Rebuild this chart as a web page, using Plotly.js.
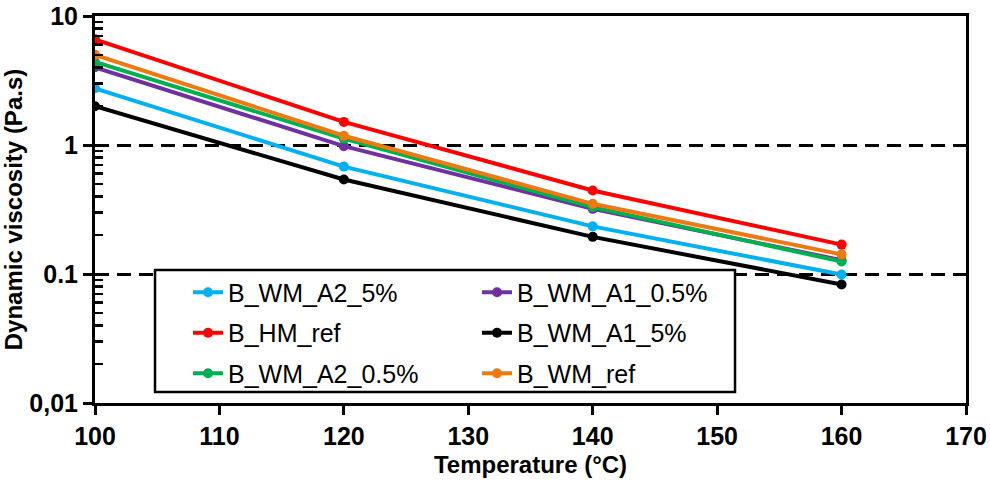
<!DOCTYPE html>
<html>
<head>
<meta charset="utf-8">
<script src="https://cdn.plot.ly/plotly-3.0.1.min.js"></script>
<style>html,body{margin:0;padding:0;background:#fff;}#chart{width:990px;height:483px;}</style>
</head>
<body>
<div id="chart"></div>
<script>
const temperatures = [100, 120, 140, 160];
const seriesNames = ['B_WM_A2_5%', 'B_WM_A1_0.5%', 'B_HM_ref', 'B_WM_A1_5%', 'B_WM_A2_0.5%', 'B_WM_ref'];
const B_WM_A2_5 = [2.75, 0.68, 0.234, 0.099];
const B_WM_A1_05 = [4.0, 0.98, 0.32, 0.128];
const B_HM_ref = [6.6, 1.51, 0.444, 0.169];
const B_WM_A1_5 = [2.0, 0.54, 0.194, 0.083];
const B_WM_A2_05 = [4.4, 1.12, 0.33, 0.125];
const B_WM_ref = [5.0, 1.18, 0.35, 0.142];
const seriesColors = ['#00B0F0', '#7030A0', '#FF0000', '#000000', '#00B050', '#EC7A12'];
const yTickVals = [0.01, 0.1, 1, 10];
const yTickText = ['0,01', '0.1', '1', '10'];
const xTickVals = [100, 110, 120, 130, 140, 150, 160, 170];

const allValues = [B_WM_A2_5, B_WM_A1_05, B_HM_ref, B_WM_A1_5, B_WM_A2_05, B_WM_ref];
const legendOf = ['legend', 'legend2', 'legend', 'legend2', 'legend', 'legend2'];
const drawOrder = [0, 3, 1, 4, 5, 2];
const traces = drawOrder.map(i => ({
  x: temperatures, y: allValues[i], name: seriesNames[i], type: 'scatter', mode: 'lines+markers',
  line: {color: seriesColors[i], width: 4}, marker: {color: seriesColors[i], size: 10},
  legend: legendOf[i], legendgroup: 'g' + i, legendrank: i
}));

const minorVals = [];
[0.01, 0.1, 1].forEach(d => { for (let k = 2; k <= 9; k++) minorVals.push(d * k); });

const fam = 'Arial, Liberation Sans, sans-serif';
const tickFont = {family: fam, size: 25, color: '#000', weight: 'bold'};
const legFont = {family: fam, size: 25, color: '#000'};

const layout = {
  width: 990, height: 483,
  margin: {l: 95, r: 24, t: 16, b: 80},
  paper_bgcolor: '#fff', plot_bgcolor: '#fff',
  showlegend: true,
  xaxis: {
    range: [100, 170], tickvals: xTickVals, ticks: 'outside', ticklen: 9, tickwidth: 3, tickcolor: '#000',
    showline: true, linecolor: '#000', linewidth: 3, mirror: true, showgrid: false, zeroline: false,
    tickfont: tickFont,
    title: {text: 'Temperature (°C)', font: {family: fam, size: 24, color: '#000', weight: 'bold'}, standoff: 8}
  },
  yaxis: {
    type: 'log', range: [-2, 1], tickvals: yTickVals, ticktext: yTickText,
    ticks: 'outside', ticklen: 9, tickwidth: 3, tickcolor: '#000',
    minor: {tickvals: minorVals, ticks: 'inside', ticklen: 8, tickwidth: 2.5, tickcolor: '#000', showgrid: false},
    showline: true, linecolor: '#000', linewidth: 3, mirror: true,
    showgrid: true, gridcolor: '#000', gridwidth: 3, griddash: '14px,8px', zeroline: false,
    tickfont: tickFont,
    title: {text: 'Dynamic viscosity (Pa.s)', font: {family: fam, size: 24, color: '#000', weight: 'bold'}, standoff: 4}
  },
  legend: {x: 0.1068, xanchor: 'left', y: 0.345, yanchor: 'top', bgcolor: 'rgba(0,0,0,0)', borderwidth: 0,
    font: legFont, tracegroupgap: 5, traceorder: 'grouped', itemclick: false},
  legend2: {x: 0.4386, xanchor: 'left', y: 0.345, yanchor: 'top', bgcolor: 'rgba(0,0,0,0)', borderwidth: 0,
    font: legFont, tracegroupgap: 5, traceorder: 'grouped', itemclick: false},
  shapes: [{type: 'rect', xref: 'paper', yref: 'paper', x0: 0.0689, x1: 0.7348, y0: 0.0284, y1: 0.3437,
    line: {color: '#000', width: 2.5}, fillcolor: '#fff', layer: 'above'}]
};

Plotly.newPlot('chart', traces, layout, {displayModeBar: false, staticPlot: true});
</script>
</body>
</html>
